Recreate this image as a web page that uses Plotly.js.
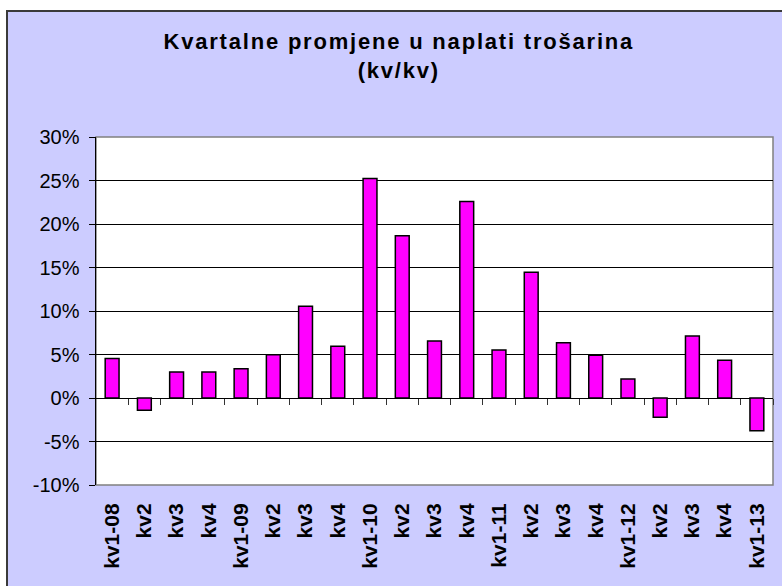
<!DOCTYPE html>
<html>
<head>
<meta charset="utf-8">
<script src="https://cdn.plot.ly/plotly-3.0.1.min.js"></script>
<style>
  html, body { margin: 0; padding: 0; background: #ffffff; overflow: hidden; }
  #frame { position: absolute; left: 6px; top: 10px; width: 800px; height: 600px;
           background: #CCCCFF; border-left: 2px solid #3a3a3a; border-top: 2px solid #3a3a3a; }
  #chart { position: absolute; left: 0; top: 0; width: 782px; height: 586px; }
  .gtitle { letter-spacing: 1.8px; }
</style>
</head>
<body>
<div id="frame"></div>
<div id="chart"></div>
<script>
const categories = ['kv1-08','kv2','kv3','kv4','kv1-09','kv2','kv3','kv4','kv1-10','kv2','kv3','kv4',
                    'kv1-11','kv2','kv3','kv4','kv1-12','kv2','kv3','kv4','kv1-13'];
const changePct = [4.55, -1.41, 2.98, 2.98, 3.36, 4.97, 10.55, 5.96, 25.23, 18.65, 6.55, 22.6,
                   5.52, 14.44, 6.36, 4.91, 2.17, -2.21, 7.12, 4.34, -3.77];
const yTickVals = [-10, -5, 0, 5, 10, 15, 20, 25, 30];
const yTickText = ['-10%', '-5%', '0%', '5%', '10%', '15%', '20%', '25%', '30%'];
const titleText = 'Kvartalne promjene u naplati trošarina<br>(kv/kv)';

// use index positions so duplicate quarter names stay separate
const xIdx = categories.map((c, i) => i);
const boundaryTicks = categories.map((c, i) => i + 0.5);

const yMin = yTickVals[0], yMax = yTickVals[yTickVals.length - 1];

const data = [
  {
    type: 'bar',
    x: xIdx,
    y: changePct,
    marker: { color: '#FF00FF', line: { color: '#000000', width: 1.5 } },
    hoverinfo: 'skip'
  },
  {
    type: 'scatter', mode: 'markers',
    x: [], y: [], xaxis: 'x2', yaxis: 'y', hoverinfo: 'skip', showlegend: false
  }
];

const layout = {
  width: 782, height: 586,
  paper_bgcolor: 'rgba(0,0,0,0)',
  plot_bgcolor: '#ffffff',
  showlegend: false,
  margin: { l: 96, r: 9, t: 137, b: 101, pad: 0 },
  bargap: 0.57,
  font: { family: 'Liberation Sans, Arial, sans-serif', color: '#000000' },
  title: {
    text: titleText,
    font: { family: 'Liberation Sans, Arial, sans-serif', size: 22, color: '#000000', weight: 'bold' },
    xref: 'container', yref: 'container',
    x: 0.51, xanchor: 'center',
    y: 1 - 49 / 586, yanchor: 'top'
  },
  xaxis: {
    type: 'linear',
    range: [-0.5, categories.length - 0.5],
    tickmode: 'array',
    tickvals: xIdx,
    ticktext: categories,
    tickangle: -90,
    tickfont: { size: 21, weight: 'bold', color: '#000000' },
    ticks: 'outside', ticklen: 9, tickcolor: 'rgba(0,0,0,0)',
    showgrid: false, zeroline: false, showline: false,
    fixedrange: true
  },
  xaxis2: {
    overlaying: 'x',
    anchor: 'free',
    position: (0 - yMin) / (yMax - yMin),
    side: 'bottom',
    range: [-0.5, categories.length - 0.5],
    tickmode: 'array',
    tickvals: boundaryTicks,
    ticks: 'outside', ticklen: 6, tickwidth: 1, tickcolor: '#333333',
    showticklabels: false,
    showgrid: false, zeroline: false, showline: false
  },
  yaxis: {
    range: [yMin, yMax],
    tickmode: 'array',
    tickvals: yTickVals,
    ticktext: yTickText,
    tickfont: { size: 20, color: '#000000' },
    ticks: 'outside', ticklen: 6, tickwidth: 1, tickcolor: '#000000',
    ticklabelstandoff: 5,
    showgrid: true, gridcolor: '#000000', gridwidth: 1,
    zeroline: true, zerolinecolor: '#000000', zerolinewidth: 1,
    showline: true, linecolor: '#000000', linewidth: 1.5,
    fixedrange: true
  },
  shapes: [
    { type: 'rect', xref: 'paper', yref: 'paper', x0: 0, x1: 1, y0: 0, y1: 1,
      line: { color: '#808080', width: 1.5 }, layer: 'below' }
  ]
};

Plotly.newPlot('chart', data, layout, { displayModeBar: false, staticPlot: true });
</script>
</body>
</html>
